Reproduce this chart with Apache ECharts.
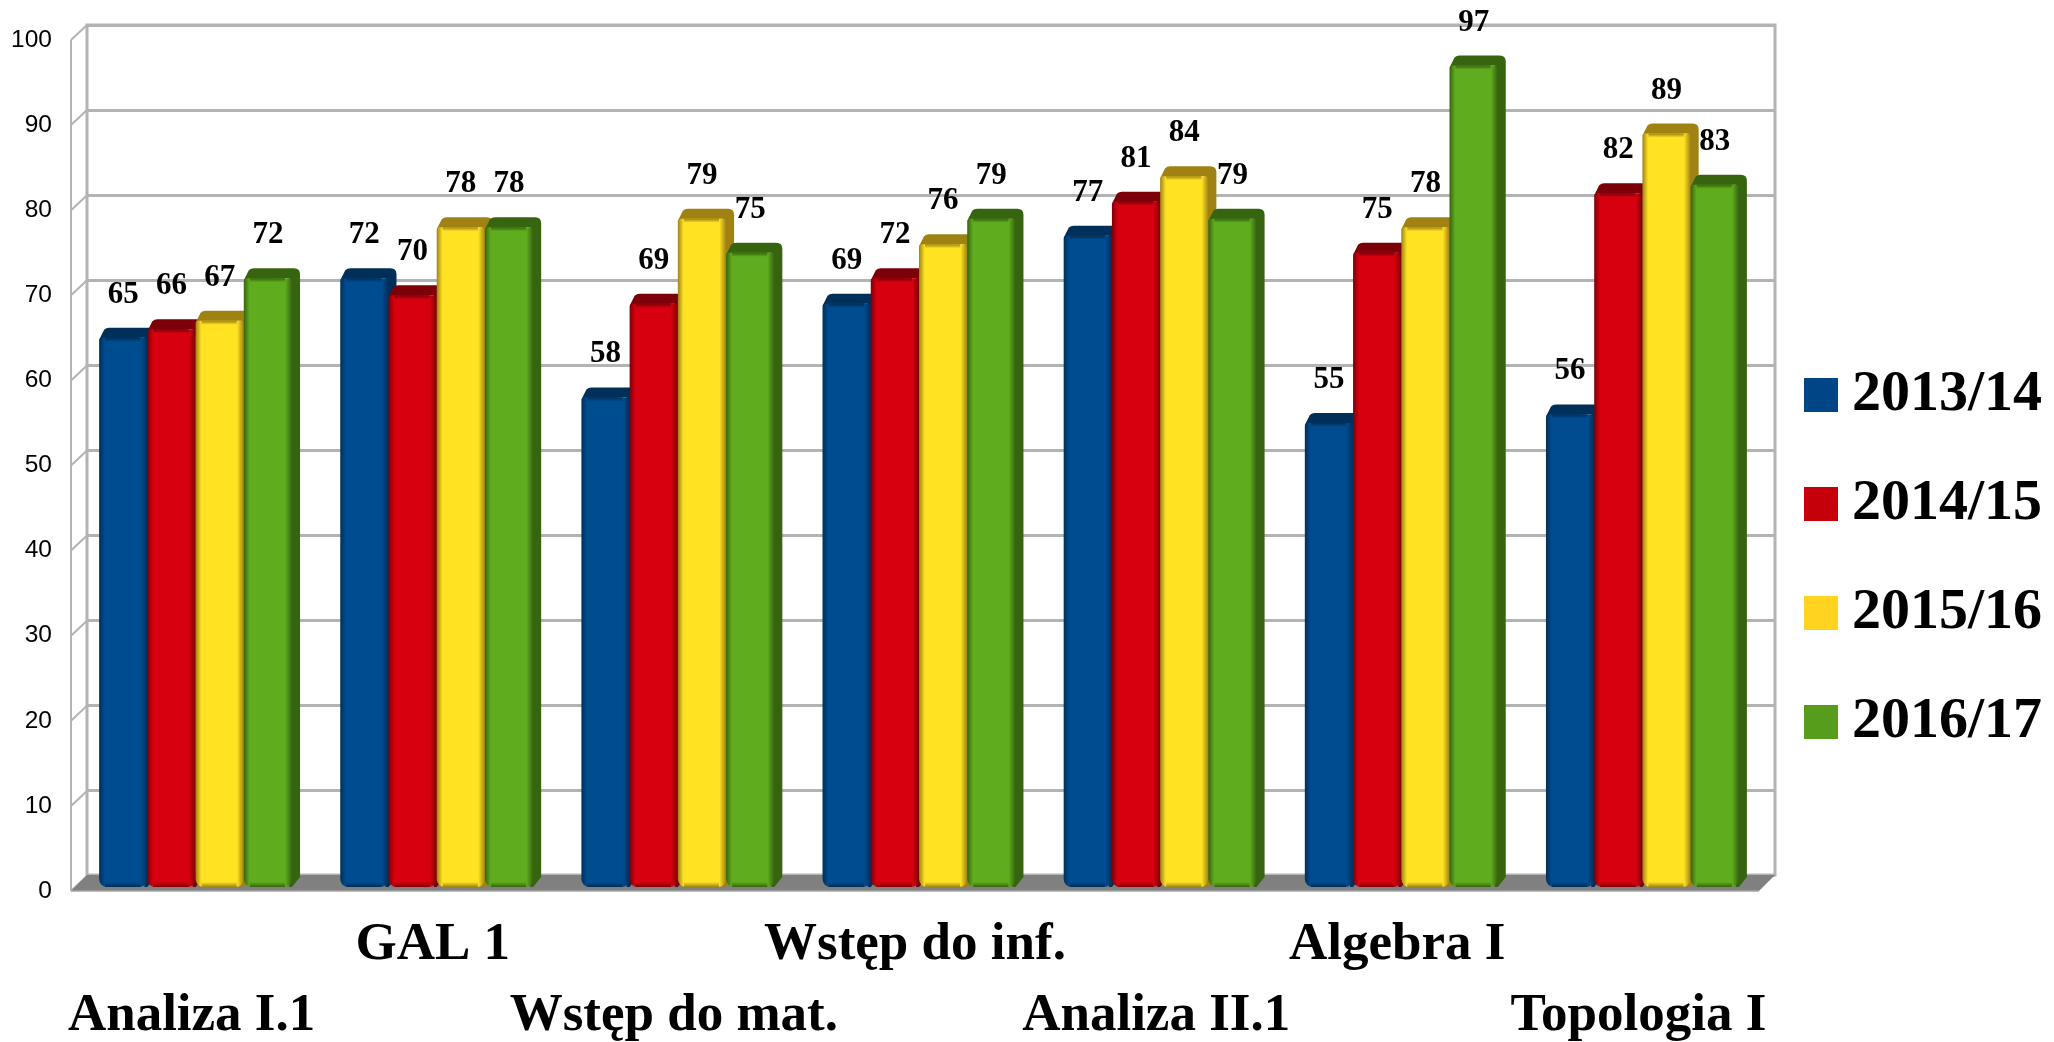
<!DOCTYPE html>
<html><head><meta charset="utf-8">
<style>html,body{margin:0;padding:0;background:#fff;overflow:hidden}#c{width:2054px;height:1042px}</style>
<script src="https://cdn.jsdelivr.net/npm/echarts@6/dist/echarts.min.js"></script>
</head><body><div id="c"></div>
<script>
const categories = ['Analiza I.1','GAL 1','Wstęp do mat.','Wstęp do inf.','Analiza II.1','Algebra I','Topologia I'];
const years = ['2013/14','2014/15','2015/16','2016/17'];
const s2013 = [65,72,58,69,77,55,56];
const s2014 = [66,70,69,72,81,75,82];
const s2015 = [67,78,79,76,84,78,89];
const s2016 = [72,78,75,79,79,97,83];
const yTicks = [0,10,20,30,40,50,60,70,80,90,100];

const seriesValues = [s2013,s2014,s2015,s2016];
const legendColors = ['#004586','#c5000b','#ffd320','#579d1c'];
const faceColors = ['#004c90','#d7000f','#ffe322','#5fac1e'];
const edgeColors = ['#002f5a','#7c0008','#a08212','#37640f'];
const GRID='#b3b3b3';
const chart = echarts.init(document.getElementById('c'));
const DX=8, DY=10;

function barRender(s){
  return function(params,api){
    const idx=api.value(0), v=api.value(1);
    const p=api.coord([idx,v]);
    const zero=api.coord([idx,0]);
    const band=api.size([1,0])[0];
    const w=band*0.2;
    const x=p[0]+4-2*w+s*w;
    const y=p[1];
    const base=zero[1]-4;
    const face=faceColors[s], edge=edgeColors[s];
    const grad=new echarts.graphic.LinearGradient(0,0,1,0,[
      {offset:0,color:edge},{offset:0.12,color:face},{offset:0.86,color:face},{offset:1,color:edge}]);
    const grad2=new echarts.graphic.LinearGradient(0,0,0,1,[
      {offset:0,color:face},{offset:1,color:edge}]);
    const grad3=new echarts.graphic.LinearGradient(0,0,0,1,[
      {offset:0,color:edge},{offset:1,color:face}]);
    const z=s*4+1;
    const r=x+w, L=x+DX, R=r+DX, t=y-DY;
    const cap='M'+x+' '+(y+2)+' L'+(L-3)+' '+(t+2)+' Q'+(L-1)+' '+t+' '+(L+2)+' '+t+
      ' L'+(R-6)+' '+t+' Q'+R+' '+t+' '+R+' '+(t+6)+
      ' L'+R+' '+(base-DY)+' L'+r+' '+base+' L'+(r-3)+' '+base+' L'+(r-3)+' '+y+' Z';
    return {type:'group',children:[
      {type:'path',z2:z,shape:{pathData:cap},style:{fill:edge}},
      {type:'rect',z2:z+1,shape:{x:x,y:y,width:w,height:base-y,r:[3,3,8,8]},style:{fill:grad}},
      {type:'rect',z2:z+2,shape:{x:x+6,y:y,width:w-13,height:4},style:{fill:grad3}},
      {type:'rect',z2:z+2,shape:{x:x+6,y:base-5,width:w-13,height:5},style:{fill:grad2}},
      {type:'text',z2:100,style:{text:String(v),x:x+w/2,y:y-43,align:'center',verticalAlign:'middle',
        font:'bold 31px "Liberation Serif"',fill:'#000'}}
    ]};
  };
}
function wallRender(params,api){
  const tick=api.value(1);
  const p=api.coord([0,tick]);
  const cs=params.coordSys;
  const x0=cs.x, y=p[1];
  const line={stroke:GRID,lineWidth:2};
  const kids=[{type:'line',shape:{x1:x0,y1:y,x2:x0+16,y2:y-15},style:line}];
  if(tick===0){
    kids.push({type:'line',shape:{x1:x0,y1:cs.y,x2:x0,y2:y},style:line});
    kids.push({type:'polygon',shape:{points:[[x0,y],[x0+16,y-16],[x0+cs.width+16,y-16],[x0+cs.width,y]]},style:{fill:'#808080'}});
    kids.push({type:'line',shape:{x1:x0,y1:y,x2:x0+cs.width,y2:y},style:{stroke:'#a6a6a6',lineWidth:1.5}});
  }
  return {type:'group',children:kids};
}
const series=[{
  name:'walls',type:'custom',xAxisIndex:0,yAxisIndex:0,z:1,silent:true,
  encode:{x:0,y:1},data:yTicks.map(t=>[0,t]).reverse(),renderItem:wallRender
}];
years.forEach((name,s)=>{
  series.push({name:name,type:'custom',xAxisIndex:0,yAxisIndex:0,z:2,
    itemStyle:{color:legendColors[s]},encode:{x:0,y:1},
    data:seriesValues[s].map((v,i)=>[i,v]),renderItem:barRender(s)});
});
chart.setOption({
  animation:false,
  backgroundColor:'#fff',
  legend:{show:true,data:years.map((n,i)=>({name:n,icon:'rect',itemStyle:{color:legendColors[i]}})),orient:'vertical',left:1799,top:361,
    itemWidth:34,itemHeight:34,itemGap:51,selectedMode:false,
    textStyle:{fontFamily:'Liberation Serif',fontWeight:'bold',fontSize:58,color:'#000',lineHeight:40,padding:[0,0,0,9]}},
  grid:[
    {left:71,width:1688,top:40,height:851,containLabel:false,outerBoundsMode:'none'},
    {left:87,width:1688,top:25,height:850,show:true,borderColor:GRID,borderWidth:3,backgroundColor:'transparent',z:0,outerBoundsMode:'none'}
  ],
  xAxis:[
    {type:'category',gridIndex:0,data:categories,axisLine:{show:false},axisTick:{show:false},
     axisLabel:{interval:0,margin:18.5,hideOverlap:false,fontFamily:'Liberation Serif',fontWeight:'bold',fontSize:53,color:'#000',lineHeight:71,
       formatter:(v,i)=>i%2===0?'\n'+v:v+'\n'}},
    {type:'category',gridIndex:1,data:categories,show:false}
  ],
  yAxis:[
    {type:'value',gridIndex:0,min:0,max:100,interval:10,axisLine:{show:false},axisTick:{show:false},splitLine:{show:false},
     axisLabel:{margin:19,fontFamily:'Liberation Sans',fontSize:24.5,color:'#000',padding:[4,0,0,0]}},
    {type:'value',gridIndex:1,min:0,max:100,interval:10,axisLine:{show:false},axisTick:{show:false},axisLabel:{show:false},
     splitLine:{show:true,lineStyle:{color:GRID,width:3}}}
  ],
  series:series
});
</script></body></html>
